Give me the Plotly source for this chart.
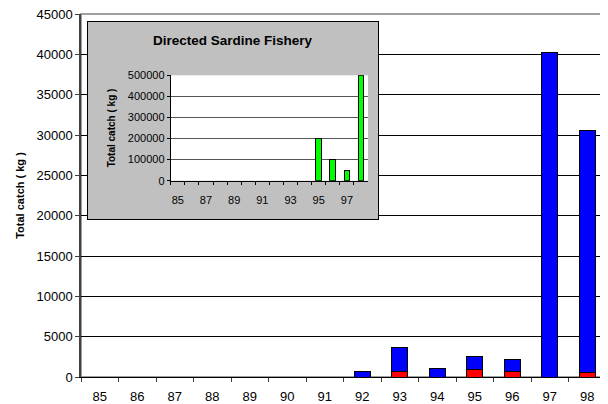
import plotly.graph_objects as go

years = ["85", "86", "87", "88", "89", "90", "91", "92", "93", "94", "95", "96", "97", "98"]
red_catch = [None, None, None, None, None, None, None, None, 670, None, 990, 670, None, 580]
blue_catch = [None, None, None, None, None, None, None, 700, 3030, 1040, 1580, 1560, 40200, 30020]
directed_catch = [None, None, None, None, None, None, None, None, None, None, 200000, 100000, 50000, 500000]
inset_labels = ["85", "", "87", "", "89", "", "91", "", "93", "", "95", "", "97", ""]
y_title = "Total catch ( kg )"
inset_title = "Directed Sardine Fishery"

FONT = "Liberation Sans, Arial, sans-serif"

fig = go.Figure()
fig.add_bar(x=years, y=red_catch, width=0.42, marker=dict(color="#FF0000", line=dict(color="black", width=1)),
            showlegend=False, xaxis="x", yaxis="y")
fig.add_bar(x=years, y=blue_catch, width=0.42, marker=dict(color="#0000FF", line=dict(color="black", width=1)),
            showlegend=False, xaxis="x", yaxis="y")
fig.add_scatter(x=[], y=[], xaxis="x2", yaxis="y2", showlegend=False)
fig.add_bar(x=years, y=directed_catch, width=0.4, marker=dict(color="#00FF00", line=dict(color="black", width=1)),
            showlegend=False, xaxis="x3", yaxis="y3")

fig.update_layout(
    template="none",
    width=600, height=396,
    margin=dict(l=73, r=2, t=6, b=27, autoexpand=False),
    paper_bgcolor="white", plot_bgcolor="white",
    barmode="stack", bargap=0.5,
    font=dict(family=FONT, color="black", size=13),
    xaxis=dict(type="category", domain=[0, 1], range=[-0.5, 13.5], showline=True, linecolor="black",
               linewidth=1, ticks="outside", ticklen=4, tickcolor="#404040", tickson="boundaries",
               showgrid=False, tickfont=dict(size=13), mirror=False, anchor="y", automargin=False,
               tickangle=0, ticklabelstandoff=7, ticklabeloverflow="allow"),
    yaxis=dict(domain=[0, 1], range=[0, 45000], dtick=5000, tickformat="d", showline=True,
               linecolor="#404040", linewidth=1.5, ticks="outside", ticklen=4, tickcolor="#404040",
               gridcolor="black", gridwidth=1, zeroline=False, tickfont=dict(size=13), anchor="x",
               automargin=False, ticklabeloverflow="allow",
               title=dict(text="<b>" + y_title + "</b>", font=dict(size=11), standoff=10)),
    xaxis2=dict(domain=[0.0133, 0.5657], range=[0, 1], anchor="y2", showline=True, mirror=True,
                linecolor="black", linewidth=1, showgrid=False, zeroline=False, showticklabels=False,
                ticks="", automargin=False),
    yaxis2=dict(domain=[0.4353, 0.978], range=[0, 1], anchor="x2", showline=True, mirror=True,
                linecolor="black", linewidth=1, showgrid=False, zeroline=False, showticklabels=False,
                ticks="", automargin=False),
    xaxis3=dict(type="category", domain=[0.1709, 0.5467], range=[-0.5, 13.5], anchor="y3",
                tickmode="array", tickvals=years, ticktext=inset_labels, tickson="boundaries",
                ticks="outside", ticklen=3, tickcolor="black", showline=True, linecolor="black",
                showgrid=False, tickfont=dict(size=11), tickangle=0, automargin=False,
                ticklabelstandoff=9),
    yaxis3=dict(domain=[0.5408, 0.8311], range=[0, 500000], dtick=100000, tickformat="d", anchor="x3",
                showline=True, linecolor="black", ticks="outside", ticklen=3, tickcolor="black",
                gridcolor="#555555", zeroline=False, tickfont=dict(size=11), automargin=False,
                title=dict(text="<b>" + y_title + "</b>", font=dict(size=10), standoff=10)),
    shapes=[dict(type="rect", xref="x domain", yref="y domain", x0=0, x1=1, y0=0, y1=1,
                 layer="below", fillcolor="rgba(0,0,0,0)", line=dict(color="#808080", width=1.5)),
            dict(type="rect", xref="x2", yref="y2", x0=0, x1=1, y0=0, y1=1, layer="below",
                 fillcolor="#C0C0C0", line=dict(width=0))],
    annotations=[dict(text="<b>" + inset_title + "</b>", xref="x2 domain", yref="y2 domain",
                      x=0.5, y=0.905, showarrow=False, font=dict(size=13.5), xanchor="center",
                      yanchor="middle")],
)

fig.write_html("out.html")
